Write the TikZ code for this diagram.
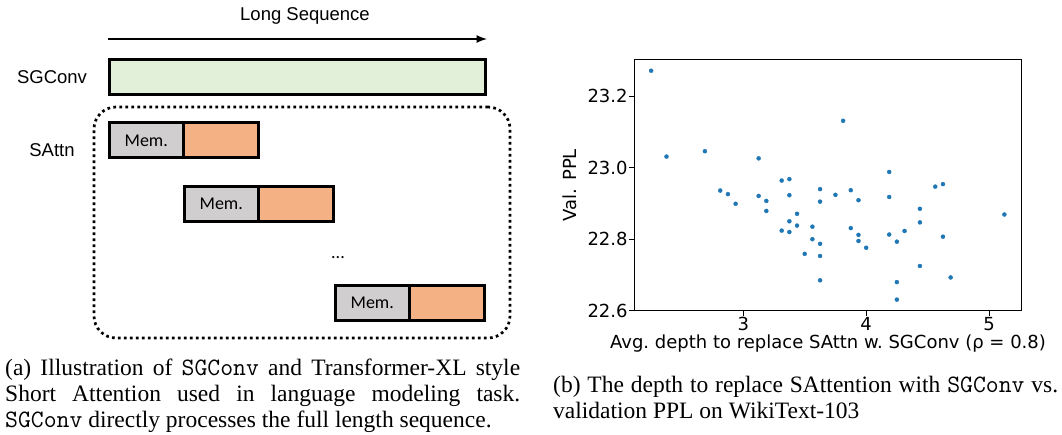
\documentclass[tikz,border=0pt]{standalone}
\usepackage{fontspec}
\setmainfont{Liberation Serif}
\setsansfont{Liberation Sans}
\newfontfamily\memfamily{Carlito}
\newfontfamily\plotfamily{DejaVu Sans}
\usepackage{tikz}
\usepackage{pgfplots}
\pgfplotsset{compat=1.18}
\usetikzlibrary{arrows,calc,positioning}
\tikzset{>=latex}
\newcommand\codename[1]{{\ttfamily\fontsize{25}{26}\selectfont #1}}
\newcommand\plotfont{\plotfamily\fontsize{18}{21}\selectfont}
\definecolor{convgreen}{HTML}{E2F0D9}
\definecolor{memgray}{HTML}{D0CECE}
\definecolor{segorange}{HTML}{F4B183}
\definecolor{dotblue}{HTML}{1F77B4}
\tikzstyle{convbar}=[rectangle,draw=black,fill=convgreen,line width=3pt,outer sep=0pt,minimum height=35pt,minimum width=376pt]
\tikzstyle{memblock}=[rectangle,draw=black,fill=memgray,line width=3pt,outer sep=0pt,minimum height=35pt,minimum width=73.5pt,font=\memfamily\fontsize{18}{20}\selectfont]
\tikzstyle{segblock}=[rectangle,draw=black,fill=segorange,line width=3pt,outer sep=0pt,minimum height=35pt,minimum width=75.5pt]
\tikzstyle{rowlabel}=[font=\sffamily\fontsize{18.5}{22}\selectfont]
\tikzstyle{captext}=[font=\fontsize{23.5}{26}\selectfont,inner sep=0pt,align=justify,anchor=north west]

\begin{document}
\begin{tikzpicture}[x=1pt,y=1pt]
	\useasboundingbox (0,0) rectangle (1062,434);
	\def \rowy {293.5};
	\def \blky {230};
	\def \lasty {131.5};
	
	% long sequence
	\coordinate (seqstart) at (108,395);
	\coordinate (seqend) at (487,395);
	\draw[->, line width=2.5pt] (seqstart) -- (seqend);
	\node[rowlabel] (seqlab) at (305,418) {Long Sequence};
	
	\node[convbar] (conv) at (297.5,357) {};
	\node[rowlabel] (convlab) at (52,357) {SGConv};
	
	% short attention segments
	\node[draw, line width=2.7pt, dash pattern=on 2.7pt off 3.3pt, rounded corners=22pt,
	      minimum width=416pt, minimum height=231pt, outer sep=0pt] (sattnbox) at (302,211.5) {};
	\node[rowlabel] (sattnlab) at (52,284) {SAttn};
	
	\node[memblock, anchor=west] (mem1) at (109.5,\rowy) {Mem.};
	\node[segblock, anchor=west] (seg1) at (mem1.east) {};
	\node[memblock, anchor=west] (mem2) at (184.5,\blky) {Mem.};
	\node[segblock, anchor=west] (seg2) at (mem2.east) {};
	\node[memblock, anchor=west] (mem3) at (335.5,\lasty) {Mem.};
	\node[segblock, anchor=west] (seg3) at (mem3.east) {};
	\node[font=\memfamily\fontsize{18}{20}\selectfont] (dots) at (338,176) {...};
	
	% depth vs ppl
	\begin{axis}[name=pplaxis, at={(634.3pt,123.3pt)}, anchor=south west,
		scale only axis, width=387.4pt, height=251.4pt,
		xmin=2.113, xmax=5.266, ymin=22.6, ymax=23.303,
		xtick={3,4,5}, xticklabels={3,4,5},
		ytick={22.6,22.8,23.0,23.2}, yticklabels={22.6,22.8,23.0,23.2},
		tick align=outside, tick pos=left, major tick length=5pt,
		axis line style={line width=1pt}, tick style={line width=1pt, black},
		ticklabel style={font=\plotfont, inner sep=1.5pt},
		every axis x label/.style={at={(axis description cs:0.5,-0.132)}, anchor=center, inner sep=0pt, font=\plotfont\frenchspacing},
		every axis y label/.style={at={(axis description cs:-0.166,0.5)}, rotate=90, anchor=center, inner sep=0pt, font=\plotfont},
		xlabel={Avg. depth to replace SAttn w. SGConv (ρ = 0.8)},
		ylabel={Val. PPL}]
	\addplot[only marks, mark=*, mark size=2pt, dotblue] coordinates {
		(2.25,23.271) (2.375,23.031) (2.6875,23.046) (3.125,23.026)
		(2.8125,22.936) (2.875,22.926) (2.9375,22.899) (3.125,22.921)
		(3.1875,22.907) (3.1875,22.879) (3.3125,22.964) (3.375,22.968)
		(3.375,22.923) (3.4375,22.871) (3.375,22.850) (3.4375,22.838)
		(3.3125,22.824) (3.375,22.820) (3.5625,22.835) (3.5625,22.800)
		(3.5,22.759) (3.625,22.940) (3.625,22.905) (3.625,22.787)
		(3.625,22.753) (3.625,22.685) (3.75,22.924) (3.8125,23.131)
		(3.875,22.937) (3.875,22.831) (3.9375,22.909) (3.9375,22.812)
		(3.9375,22.795) (4.0,22.776) (4.1875,22.988) (4.1875,22.918)
		(4.1875,22.813) (4.25,22.793) (4.25,22.680) (4.25,22.631)
		(4.3125,22.823) (4.4375,22.885) (4.4375,22.847) (4.4375,22.725)
		(4.5625,22.947) (4.625,22.954) (4.625,22.807) (4.6875,22.693)
		(5.125,22.869)};
	\end{axis}
	
	% captions
	\node[captext, text width=515pt] (capa) at (5,75) {(a) Illustration of \codename{SGConv} and Transformer-XL style\linebreak Short Attention used in language modeling task.\linebreak \codename{SGConv} directly processes the full length sequence.};
	\node[captext, text width=505pt] (capb) at (553,58) {(b) The depth to replace SAttention with \codename{SGConv} vs.\linebreak validation PPL on WikiText-103};
\end{tikzpicture}
\end{document}
